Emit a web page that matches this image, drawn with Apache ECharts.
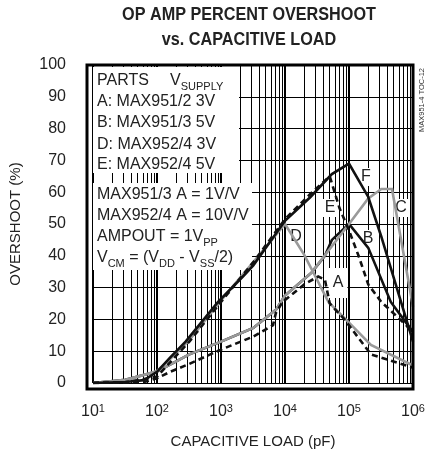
<!DOCTYPE html>
<html><head><meta charset="utf-8">
<script src="https://cdn.jsdelivr.net/npm/echarts@6/dist/echarts.min.js"></script>
<style>html,body{margin:0;padding:0;background:#fff}#c{width:430px;height:454px}</style>
</head><body><div id="c"></div>
<script>
const FONT = "'Liberation Sans Narrow','Liberation Sans',Arial,sans-serif";

// Capacitive load (pF) and overshoot (%)
const xF = [10, 32, 63, 100, 160, 280, 900, 2200, 3200, 10000, 25000, 54000, 100000, 200000, 320000, 1000000];
const yF = [0, 0.3, 0.9, 3.5, 8, 13, 25.5, 33.5, 37, 51, 58.5, 65.7, 69, 58.5, 46, 13];

const xE = [10, 32, 100, 160, 320, 1000, 3200, 10000, 25000, 50000, 71000, 100000, 141000, 200000, 320000, 800000, 1000000];
const yE = [0, 0.2, 2, 6.5, 13, 25.5, 38, 51.5, 59.5, 65, 55, 48, 40, 31, 25.5, 18, 15];

const xD = [10, 32, 100, 160, 320, 1000, 3200, 10000, 20000, 48000, 100000, 220000, 1000000];
const yD = [0, 0.8, 3.8, 7.5, 13.5, 26, 38, 50, 40.3, 25.4, 19, 12, 5.5];

const xAC = [10, 32, 100, 320, 1000, 3200, 6500, 7200, 10000, 26000, 100000, 200000, 320000, 470000, 1000000];
const yAC = [0, 1, 3.6, 9, 13, 17.3, 22.3, 23, 27.5, 34.7, 50, 58, 61, 61, 24];

const xAd = [10, 63, 100, 160, 320, 1000, 3200, 6500, 7200, 9100, 20000, 33000, 42000, 50000, 85000, 220000, 1000000];
const yAd = [0, 0.3, 1.5, 3.5, 6, 10.5, 14.6, 18.2, 22, 25.4, 31, 33.5, 32.5, 25, 20, 9, 4.8];

const xB = [10, 32, 100, 320, 1000, 3200, 6500, 7200, 10000, 26000, 42000, 54000, 100000, 200000, 450000, 1000000];
const yB = [0, 1, 3.6, 9, 13, 17.3, 22.3, 23, 27.5, 34.7, 40, 45, 50, 42.5, 25.5, 16];

const xDecades = [10, 100, 1000, 10000, 100000];
const minorMult = [2, 3, 4, 5, 6, 7, 8, 9];

const zip = (xs, ys) => xs.map((x, i) => [x, ys[i]]);
const BLACK = '#111', GRAY = '#9a9a9a';

const minorLines = [];
xDecades.forEach(d => minorMult.forEach(m => minorLines.push({ xAxis: d * m })));

function line(name, xs, ys, color, dashed, z) {
  return {
    name, type: 'line', data: zip(xs, ys), symbol: 'none', z, silent: true,
    lineStyle: { color, width: 2.6, type: dashed ? [6, 4] : 'solid', cap: 'butt', join: 'miter' }
  };
}

const txt = (x, y, text) => ({
  type: 'text', x, y, z: 9,
  style: { text, fontSize: 16, fontFamily: FONT, fill: '#222', verticalAlign: 'middle' }
});

const subRich = {
  sub: { fontSize: 11, fontFamily: FONT, fill: '#222', color: '#222', verticalAlign: 'bottom', lineHeight: 11, padding: [0, 0, -2, 0] }
};

function richTxt(x, y, text) {
  return {
    type: 'text', x, y, z: 9,
    style: { text, fontSize: 16, fontFamily: FONT, fill: '#222', lineHeight: 18, verticalAlign: 'middle', rich: subRich }
  };
}

function tag(x, y, text, pad) {
  return {
    type: 'text', x, y, z: 8,
    style: { text, fontSize: 16, fontFamily: FONT, fill: '#222', align: 'center', verticalAlign: 'middle',
      backgroundColor: '#fff', padding: pad || [1, 2] }
  };
}

function titleLine(y, text) {
  return {
    type: 'text', x: 249, y, z: 9, scaleX: 0.9,
    style: { text, fontSize: 18, fontWeight: 'bold', fontFamily: FONT, fill: '#222', align: 'center', verticalAlign: 'middle' }
  };
}

const chart = echarts.init(document.getElementById('c'));
chart.setOption({
  animation: false,
  backgroundColor: '#fff',
  grid: { left: 87, right: 17, top: 65, bottom: 65 },
  xAxis: {
    type: 'log', logBase: 10, min: 10, max: 1000000, splitNumber: 5, z: 0,
    name: 'CAPACITIVE LOAD (pF)', nameLocation: 'middle', nameGap: 51,
    nameTextStyle: { fontFamily: FONT, fontSize: 15, color: '#222' },
    axisLine: { show: false }, axisTick: { show: false },
    axisLabel: {
      margin: 20, fontFamily: FONT, fontSize: 16, color: '#222', lineHeight: 18,
      formatter: v => '10{sup|' + Math.round(Math.log10(v)) + '}',
      rich: { sup: { fontSize: 11, fontFamily: FONT, color: '#222', verticalAlign: 'top', lineHeight: 11 } }
    },
    splitLine: { show: true, lineStyle: { color: '#000', width: 2 } }
  },
  yAxis: {
    type: 'value', min: 0, max: 100, interval: 10, z: 0,
    name: 'OVERSHOOT (%)', nameLocation: 'middle', nameGap: 70, nameRotate: 90,
    nameTextStyle: { fontFamily: FONT, fontSize: 15, color: '#222' },
    axisLine: { show: false }, axisTick: { show: false },
    axisLabel: { margin: 27, fontFamily: FONT, fontSize: 16, color: '#222' },
    splitLine: { show: true, lineStyle: { color: '#000', width: 1.2 } }
  },
  series: [
    {
      type: 'line', data: [], silent: true, z: 1,
      markLine: { silent: true, z: 1, symbol: 'none', label: { show: false }, animation: false,
        lineStyle: { color: '#000', width: 1, type: 'solid' }, data: minorLines }
    },
    line('B', xB, yB, BLACK, false, 10),
    line('A gray', xAC, yAC, GRAY, false, 11),
    line('D', xD, yD, GRAY, false, 11),
    line('A dashed', xAd, yAd, BLACK, true, 12),
    line('F', xF, yF, BLACK, false, 13),
    line('E', xE, yE, BLACK, true, 14)
  ],
  graphic: [
    titleLine(15, 'OP AMP PERCENT OVERSHOOT'),
    titleLine(40, 'vs. CAPACITIVE LOAD'),
    { type: 'rect', shape: { x: 93, y: 67, width: 146, height: 106 }, z: 7, style: { fill: '#fff' } },
    { type: 'rect', shape: { x: 93, y: 183, width: 159, height: 87 }, z: 7, style: { fill: '#fff' } },
    txt(97, 81, 'PARTS'),
    richTxt(170, 81, 'V{sub|SUPPLY}'),
    txt(97, 102, 'A: MAX951/2 3V'),
    txt(97, 123, 'B: MAX951/3 5V'),
    txt(97, 145, 'D: MAX952/4 3V'),
    txt(97, 165, 'E: MAX952/4 5V'),
    txt(97, 195, 'MAX951/3 A = 1V/V'),
    txt(97, 216, 'MAX952/4 A = 10V/V'),
    richTxt(97, 237, 'AMPOUT = 1V{sub|PP}'),
    richTxt(97, 258, 'V{sub|CM} = (V{sub|DD} - V{sub|SS}/2)'),
    tag(366, 177, 'F'),
    tag(401, 208, 'C'),
    tag(330, 208, 'E'),
    tag(296, 237, 'D'),
    tag(368, 239, 'B'),
    tag(338, 283, 'A', [7, 4]),
    { type: 'rect', shape: { x: 87, y: 65, width: 326, height: 324 }, z: 30,
      style: { fill: 'none', stroke: '#000', lineWidth: 3 } },
    { type: 'text', x: 422, y: 100, rotation: Math.PI / 2, z: 20,
      style: { text: 'MAX951-4 TOC-12', fontSize: 7.5, fontFamily: FONT, fill: '#333', align: 'center', verticalAlign: 'middle' } }
  ]
});
</script>
</body></html>
